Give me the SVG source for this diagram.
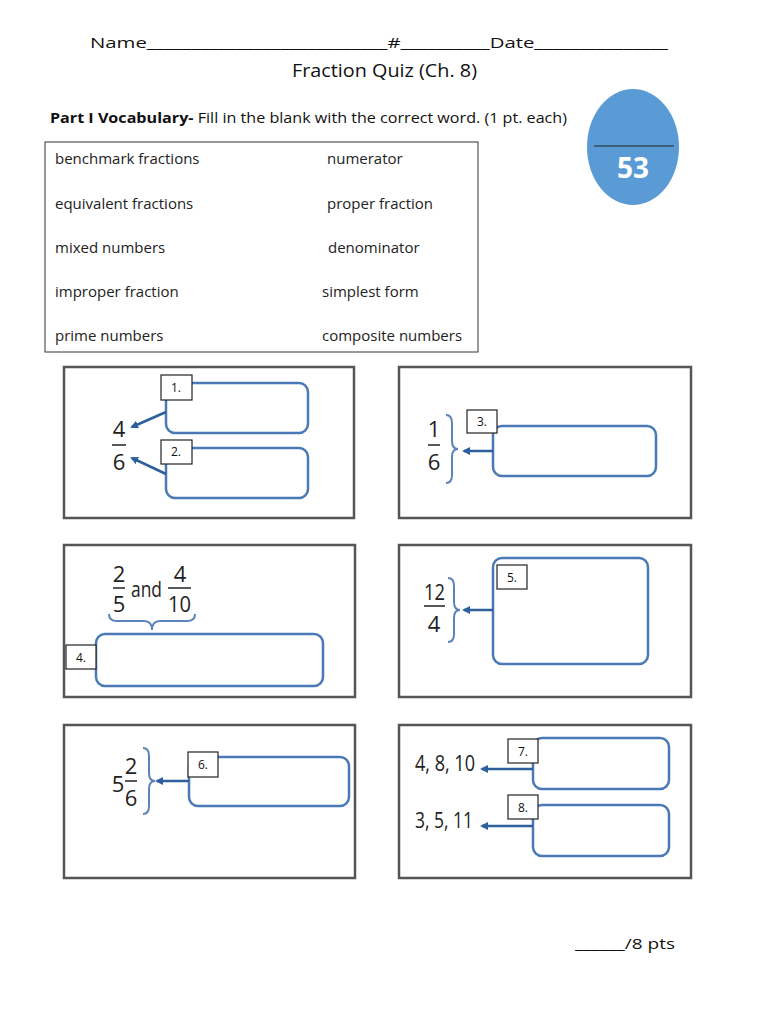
<svg xmlns="http://www.w3.org/2000/svg" width="770" height="1024" viewBox="0 0 770 1024">
<style>
text{font-family:"Open Sans","Liberation Sans",sans-serif;fill:#111}
.t{font-size:15px}
.v{font-size:15px;fill:#222}
.panel{fill:#fff;stroke:#555;stroke-width:2.5}
.box{fill:#fff;stroke:#4a7ab5;stroke-width:2.5}
.lab{fill:#fff;stroke:#222;stroke-width:1.2}
.ln{font-size:12px}
.fr{font-family:"Open Sans","Liberation Sans",sans-serif;font-size:22px;fill:#222}
.br{fill:none;stroke:#5b84b8;stroke-width:2}
.ar{stroke:#2d5f9c;stroke-width:2.5;fill:none}
</style>
<defs><marker id="ah" markerWidth="8" markerHeight="8" refX="6" refY="4" orient="auto" markerUnits="userSpaceOnUse"><path d="M0,0 L8,4 L0,8 Z" fill="#2d5f9c"/></marker></defs>
<rect width="770" height="1024" fill="#fff"/>
<g id="header">
<text class="t" x="90" y="48" textLength="578" lengthAdjust="spacingAndGlyphs">Name___________________________#__________Date_______________</text>
<text x="292" y="77" font-size="19" textLength="185" lengthAdjust="spacingAndGlyphs">Fraction Quiz (Ch. 8)</text>
<text class="t" x="50" y="123" textLength="517" lengthAdjust="spacingAndGlyphs"><tspan font-weight="bold">Part I Vocabulary-</tspan> Fill in the blank with the correct word. (1 pt. each)</text>
</g>
<g id="score"><ellipse cx="633" cy="147" rx="46" ry="58" fill="#5b9bd5"/><line x1="594" y1="146" x2="674" y2="146" stroke="#222" stroke-width="1"/><text x="633" y="178" text-anchor="middle" font-size="28" font-weight="bold" style="fill:#fff">53</text></g>
<g id="vocab">
<rect x="45" y="142" width="433" height="210" fill="#fff" stroke="#333" stroke-width="1"/>
<text class="v" x="55" y="164">benchmark fractions</text><text class="v" x="327" y="164">numerator</text>
<text class="v" x="55" y="209">equivalent fractions</text><text class="v" x="327" y="209">proper fraction</text>
<text class="v" x="55" y="253">mixed numbers</text><text class="v" x="328" y="253">denominator</text>
<text class="v" x="55" y="297">improper fraction</text><text class="v" x="322" y="297">simplest form</text>
<text class="v" x="55" y="341">prime numbers</text><text class="v" x="322" y="341">composite numbers</text>
</g>
<g id="p1">
<rect class="panel" x="64" y="367" width="290" height="151"/>
<text class="fr" x="119" y="437" text-anchor="middle">4</text><line x1="112" y1="445" x2="126" y2="445" stroke="#222" stroke-width="1.5"/><text class="fr" x="119" y="470" text-anchor="middle">6</text>
<rect class="box" x="166" y="383" width="142" height="50" rx="9"/>
<rect class="box" x="166" y="448" width="142" height="50" rx="9"/>
<rect class="lab" x="161" y="375" width="31" height="25"/><text class="ln" x="176" y="392" text-anchor="middle">1.</text>
<rect class="lab" x="161" y="440" width="31" height="24"/><text class="ln" x="176" y="456" text-anchor="middle">2.</text>
</g>
<g id="p2">
<rect class="panel" x="399" y="367" width="292" height="151"/>
<text class="fr" x="434" y="437" text-anchor="middle">1</text><line x1="428" y1="445" x2="440" y2="445" stroke="#222" stroke-width="1.5"/><text class="fr" x="434" y="470" text-anchor="middle">6</text>
<path class="br" d="M446,415 q6,0 6,8 v18 q0,8 6,8 q-6,0 -6,8 v18 q0,8 -6,8"/>
<rect class="box" x="493" y="426" width="163" height="50" rx="9"/>
<rect class="lab" x="467" y="410" width="30" height="23"/><text class="ln" x="482" y="426" text-anchor="middle">3.</text>
</g>
<g id="p3">
<rect class="panel" x="64" y="545" width="291" height="152"/>
<text class="fr" x="119" y="582" text-anchor="middle">2</text><line x1="113" y1="588" x2="125" y2="588" stroke="#222" stroke-width="1.5"/><text class="fr" x="119" y="612" text-anchor="middle">5</text>
<text class="fr" x="131" y="597" textLength="31" lengthAdjust="spacingAndGlyphs">and</text>
<text class="fr" x="180" y="582" text-anchor="middle">4</text><line x1="168" y1="588" x2="191" y2="588" stroke="#222" stroke-width="1.5"/><text class="fr" x="168" y="612" textLength="23" lengthAdjust="spacingAndGlyphs">10</text>
<path class="br" d="M109,614 q0,7 8,7 h27 q8,0 8,9 q0,-9 8,-9 h27 q8,0 8,-7"/>
<rect class="box" x="96" y="634" width="227" height="52" rx="9"/>
<rect class="lab" x="66" y="645" width="30" height="24"/><text class="ln" x="81" y="662" text-anchor="middle">4.</text>
</g>
<g id="p4">
<rect class="panel" x="399" y="545" width="292" height="152"/>
<text class="fr" x="424" y="600" textLength="21" lengthAdjust="spacingAndGlyphs">12</text><line x1="424" y1="606" x2="445" y2="606" stroke="#222" stroke-width="1.5"/><text class="fr" x="434" y="632" text-anchor="middle">4</text>
<path class="br" d="M448,578 q6,0 6,8 v16 q0,8 6,8 q-6,0 -6,8 v16 q0,8 -6,8"/>
<rect class="box" x="493" y="558" width="155" height="106" rx="9"/>
<rect class="lab" x="497" y="565" width="30" height="24"/><text class="ln" x="512" y="582" text-anchor="middle">5.</text>
</g>
<g id="p5">
<rect class="panel" x="64" y="725" width="291" height="153"/>
<text class="fr" x="118" y="792" text-anchor="middle">5</text>
<text class="fr" x="131" y="774" text-anchor="middle">2</text><line x1="125" y1="781" x2="137" y2="781" stroke="#222" stroke-width="1.5"/><text class="fr" x="131" y="806" text-anchor="middle">6</text>
<path class="br" d="M143,748 q6,0 6,8 v17 q0,8 6,8 q-6,0 -6,8 v17 q0,8 -6,8"/>
<rect class="box" x="189" y="757" width="160" height="49" rx="9"/>
<rect class="lab" x="188" y="752" width="30" height="25"/><text class="ln" x="203" y="769" text-anchor="middle">6.</text>
</g>
<g id="p6">
<rect class="panel" x="399" y="725" width="292" height="153"/>
<text class="fr" x="415" y="771" textLength="60" lengthAdjust="spacingAndGlyphs">4, 8, 10</text>
<text class="fr" x="415" y="828" textLength="58" lengthAdjust="spacingAndGlyphs">3, 5, 11</text>
<rect class="box" x="533" y="738" width="136" height="51" rx="9"/>
<rect class="box" x="533" y="805" width="136" height="51" rx="9"/>
<rect class="lab" x="508" y="739" width="30" height="24"/><text class="ln" x="523" y="756" text-anchor="middle">7.</text>
<rect class="lab" x="508" y="795" width="30" height="24"/><text class="ln" x="523" y="812" text-anchor="middle">8.</text>
</g>
<g id="connectors">
<line class="ar" x1="166" y1="412" x2="132" y2="427" marker-end="url(#ah)"/>
<line class="ar" x1="166" y1="474" x2="132" y2="458" marker-end="url(#ah)"/>
<line class="ar" x1="493" y1="451" x2="464" y2="451" marker-end="url(#ah)"/>
<line class="ar" x1="493" y1="610" x2="464" y2="610" marker-end="url(#ah)"/>
<line class="ar" x1="189" y1="781" x2="157" y2="781" marker-end="url(#ah)"/>
<line class="ar" x1="533" y1="769" x2="482" y2="769" marker-end="url(#ah)"/>
<line class="ar" x1="533" y1="826" x2="482" y2="826" marker-end="url(#ah)"/>
</g>
<text class="t" x="575" y="949" textLength="100" lengthAdjust="spacingAndGlyphs">______/8 pts</text>
</svg>
